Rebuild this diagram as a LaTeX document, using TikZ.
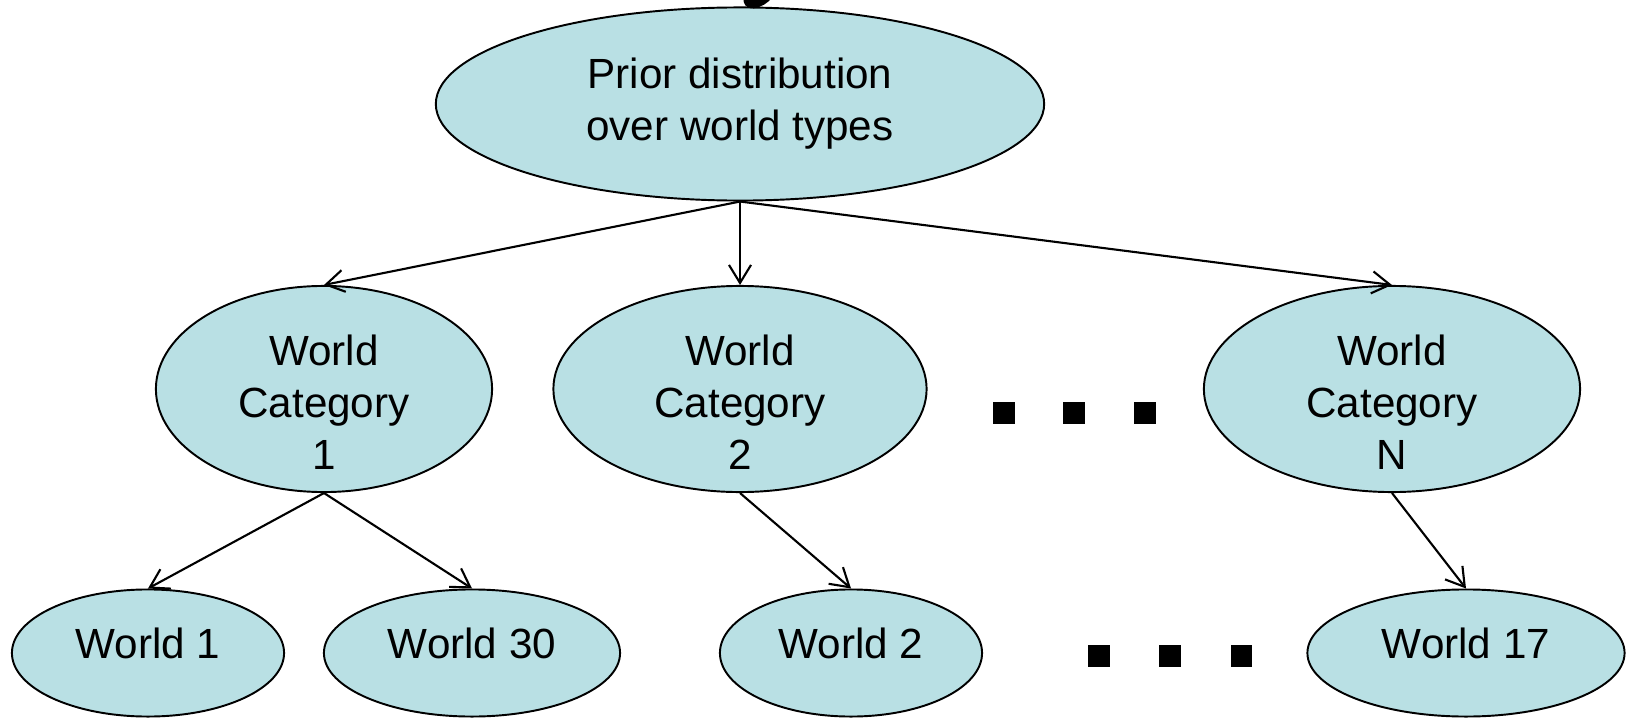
\documentclass[tikz,border=0pt]{standalone}
\usepackage{fontspec}
\setmainfont{Liberation Sans}
\usepackage{xcolor}
\usetikzlibrary{arrows.meta,shapes.geometric}
\definecolor{wfill}{RGB}{185,224,228}
\tikzset{
  wnode/.style={draw,ellipse,fill=wfill,inner sep=0pt,align=center,
    line width=0.55pt,font=\fontsize{12}{14.8}\selectfont},
  catnode/.style={wnode,minimum height=2.06cm},
  cattext/.style={align=center,inner sep=0pt,yshift=-0.135cm,
    font=\fontsize{12}{14.8}\selectfont},
  leafnode/.style={wnode,minimum height=1.27cm,text depth=0.19cm},
  wflow/.style={-{Straight Barb[length=1.8mm,width=2.2mm]},line width=0.6pt},
  wdot/.style={fill=black,inner sep=0pt,minimum size=0.21cm},
}

\begin{document}
\begin{tikzpicture}[x=0.01cm,y=-0.01cm]
\useasboundingbox (0,0) rectangle (1626,718);
% top: the prior
\node[wnode,minimum width=6.08cm,minimum height=1.93cm] (prior) at (740,104)
  {Prior distribution\\over world types};
\coordinate (feed) at (775,-60);
\coordinate (tip) at (752,0);
\draw[line width=0.17cm,line cap=round] (feed) to[out=-100,in=10] (tip);
% middle: the world categories
\node[catnode,minimum width=3.36cm,label={[cattext]center:World\\Category\\1}] (cat1) at (324,389) {};
\node[catnode,minimum width=3.73cm,label={[cattext]center:World\\Category\\2}] (cat2) at (740,389) {};
\node[catnode,minimum width=3.76cm,label={[cattext]center:World\\Category\\N}] (catN) at (1392,389) {};
\node[wdot] (cd1) at (1004,413) {};
\node[wdot] (cd2) at (1074,413) {};
\node[wdot] (cd3) at (1145,413) {};
% bottom: the worlds
\node[leafnode,minimum width=2.72cm] (w1) at (148,653) {World 1};
\node[leafnode,minimum width=2.96cm] (w30) at (472,653) {World 30};
\node[leafnode,minimum width=2.62cm] (w2) at (851,653) {World 2};
\node[leafnode,minimum width=3.17cm] (w17) at (1466,653) {World 17};
\node[wdot] (wd1) at (1099,656) {};
\node[wdot] (wd2) at (1170,656) {};
\node[wdot] (wd3) at (1241,656) {};
% prior -> categories
\draw[wflow] (prior.south) -- (cat1.north);
\draw[wflow] (prior.south) -- (cat2.north);
\draw[wflow] (prior.south) -- (catN.north);
% categories -> worlds
\draw[wflow] (cat1.south) -- (w1.north);
\draw[wflow] (cat1.south) -- (w30.north);
\draw[wflow] (cat2.south) -- (w2.north);
\draw[wflow] (catN.south) -- (w17.north);
\end{tikzpicture}
\end{document}
